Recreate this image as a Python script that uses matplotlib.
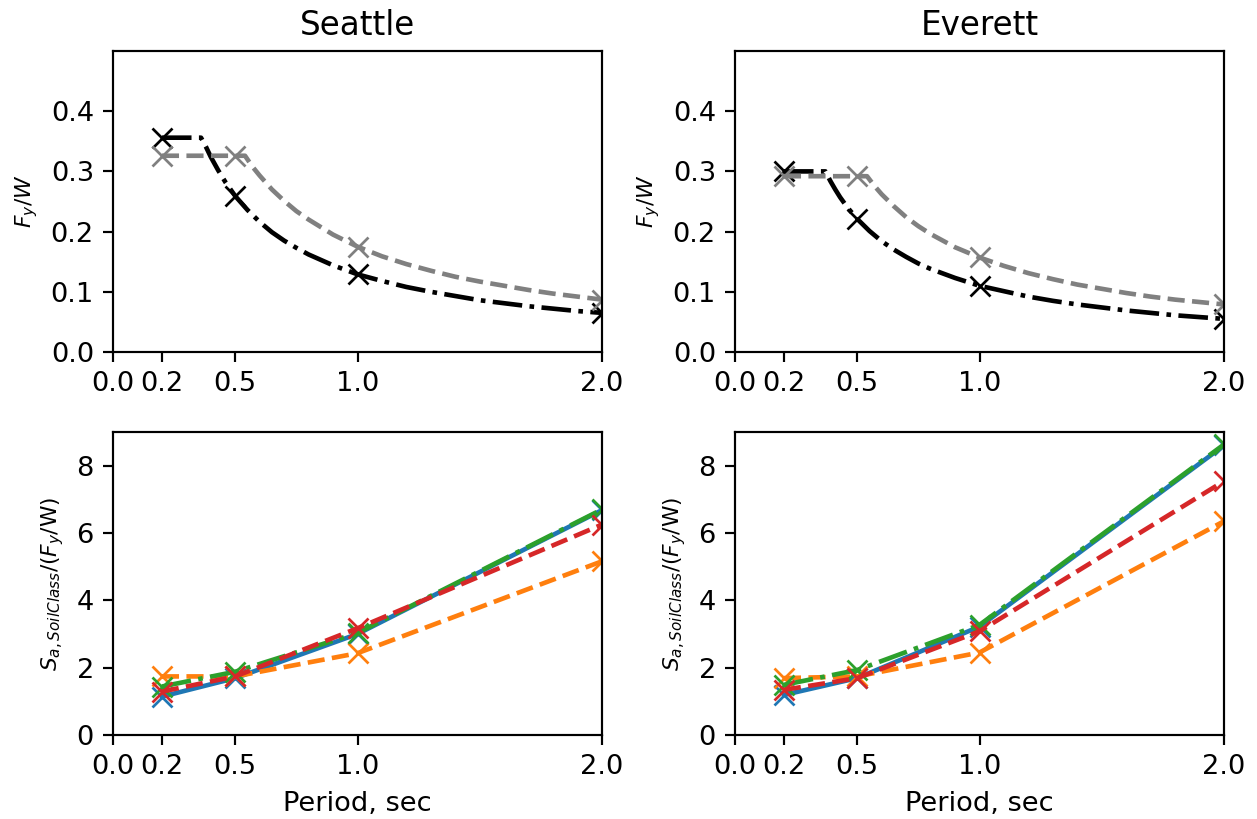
import numpy as np
import matplotlib
matplotlib.use("Agg")
import matplotlib.pyplot as plt

# periods where the design points are marked
periods = [0.2, 0.5, 1.0, 2.0]
xticks = [0.0, 0.2, 0.5, 1.0, 2.0]
xticklabels = ["0.0", "0.2", "0.5", "1.0", "2.0"]
sites = ["Seattle", "Everett"]

# Fy/W curves (black dash-dot and gray dashed)
T_black = {"Seattle": [0.2, 0.36, 0.38, 0.4, 0.43, 0.46, 0.5, 0.55, 0.6, 0.65, 0.7, 0.75, 0.8, 0.9,
                       1.0, 1.1, 1.2, 1.3, 1.4, 1.5, 1.6, 1.7, 1.8, 1.9, 2.0],
           "Everett": [0.2, 0.37, 0.39, 0.41, 0.43, 0.46, 0.5, 0.55, 0.6, 0.65, 0.7, 0.75, 0.8, 0.9,
                       1.0, 1.1, 1.2, 1.3, 1.4, 1.5, 1.6, 1.7, 1.8, 1.9, 2.0]}
Fy_black = {"Seattle": [0.356, 0.356, 0.341, 0.324, 0.302, 0.282, 0.259, 0.236, 0.216, 0.199,
                        0.185, 0.173, 0.162, 0.144, 0.129, 0.118, 0.108, 0.100, 0.093,
                        0.086, 0.081, 0.076, 0.072, 0.068, 0.065],
            "Everett": [0.300, 0.300, 0.284, 0.270, 0.257, 0.240, 0.221, 0.201, 0.184, 0.170,
                        0.158, 0.147, 0.138, 0.123, 0.110, 0.101, 0.092, 0.085, 0.079,
                        0.074, 0.069, 0.065, 0.061, 0.058, 0.055]}
mark_black = [0, 6, 14, 24]

T_gray = [0.2, 0.5, 0.54, 0.57, 0.6, 0.65, 0.7, 0.75, 0.8, 0.9, 1.0, 1.1, 1.2, 1.3, 1.4,
          1.5, 1.6, 1.7, 1.8, 1.9, 2.0]
Fy_gray = {"Seattle": [0.326, 0.326, 0.326, 0.308, 0.293, 0.270, 0.251, 0.234, 0.220, 0.195,
                       0.175, 0.159, 0.146, 0.135, 0.125, 0.117, 0.110, 0.103, 0.097,
                       0.092, 0.087],
           "Everett": [0.292, 0.292, 0.292, 0.276, 0.262, 0.242, 0.224, 0.209, 0.196, 0.174,
                       0.157, 0.143, 0.131, 0.121, 0.112, 0.105, 0.098, 0.092, 0.087,
                       0.083, 0.079]}
mark_gray = [0, 1, 10, 20]

# Sa/(Fy/W) for the four soil classes
ratio_blue = {"Seattle": [1.14, 1.69, 3.00, 6.68], "Everett": [1.19, 1.69, 3.22, 8.60]}
ratio_orange = {"Seattle": [1.74, 1.74, 2.43, 5.16], "Everett": [1.69, 1.74, 2.45, 6.35]}
ratio_green = {"Seattle": [1.44, 1.88, 3.03, 6.70], "Everett": [1.49, 1.93, 3.27, 8.63]}
ratio_red = {"Seattle": [1.29, 1.74, 3.17, 6.25], "Everett": [1.34, 1.69, 3.08, 7.54]}

fig = plt.figure(figsize=(1257 / 196, 819 / 196), dpi=196)
lefts = [113 / 1257, 735 / 1257]
w = 489 / 1257
top_pos = (1 - 352 / 819, 301 / 819)
bot_pos = (1 - 735 / 819, 303 / 819)

for i, site in enumerate(sites):
    ax = fig.add_axes([lefts[i], top_pos[0], w, top_pos[1]])
    ax.plot(T_black[site], Fy_black[site], color="k", linestyle="-.", lw=1.7,
            marker="x", markevery=mark_black, markersize=7)
    ax.plot(T_gray, Fy_gray[site], color="gray", linestyle="--", lw=1.7,
            marker="x", markevery=mark_gray, markersize=7)
    ax.set_xlim(0, 2.0)
    ax.set_ylim(0, 0.5)
    ax.set_yticks([0.0, 0.1, 0.2, 0.3, 0.4])
    ax.set_xticks(xticks)
    ax.set_xticklabels(xticklabels)
    ax.set_ylabel("$F_y/W$", fontsize=8)
    ax.set_title(site, fontsize=12)

    ax2 = fig.add_axes([lefts[i], bot_pos[0], w, bot_pos[1]])
    ax2.plot(periods, ratio_blue[site], color="tab:blue", linestyle="-", lw=1.7, marker="x", markersize=7)
    ax2.plot(periods, ratio_orange[site], color="tab:orange", linestyle="--", lw=1.7, marker="x", markersize=7)
    ax2.plot(periods, ratio_green[site], color="tab:green", linestyle="-.", lw=1.7, marker="x", markersize=7)
    ax2.plot(periods, ratio_red[site], color="tab:red", linestyle="--", lw=1.7, marker="x", markersize=7)
    ax2.set_xlim(0, 2.0)
    ax2.set_ylim(0, 9)
    ax2.set_yticks([0, 2, 4, 6, 8])
    ax2.set_xticks(xticks)
    ax2.set_xticklabels(xticklabels)
    ax2.set_ylabel("$S_{a,SoilClass}/(F_y$/W)", fontsize=8)
    ax2.set_xlabel("Period, sec")

plt.savefig("out.png", dpi=196)
